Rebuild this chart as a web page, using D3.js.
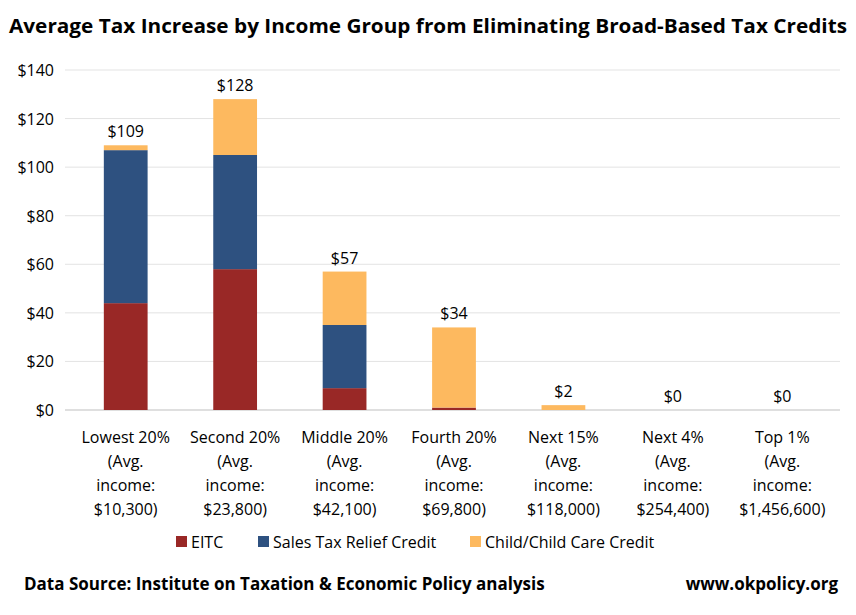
<!DOCTYPE html>
<html><head><meta charset="utf-8">
<script src="https://cdn.jsdelivr.net/npm/d3@7"></script>
<style>body{margin:0;background:#fff}text{font-family:"Open Sans",sans-serif}</style>
</head><body>
<script>
const categories=[["Lowest 20%","(Avg.","income:","$10,300)"],["Second 20%","(Avg.","income:","$23,800)"],["Middle 20%","(Avg.","income:","$42,100)"],["Fourth 20%","(Avg.","income:","$69,800)"],["Next 15%","(Avg.","income:","$118,000)"],["Next 4%","(Avg.","income:","$254,400)"],["Top 1%","(Avg.","income:","$1,456,600)"]];
const eitc=[44,58,9,1,0,0,0];
const salesTax=[63,47,26,0,0,0,0];
const childCare=[2,23,22,33,2,0,0];
const totals=["$109","$128","$57","$34","$2","$0","$0"];
const yTicks=[0,20,40,60,80,100,120,140];
const seriesNames=["EITC","Sales Tax Relief Credit","Child/Child Care Credit"];
const colors=["#992826","#2e5180","#fdb95f"];

const W=856,H=615;
const svg=d3.select("body").append("svg").attr("width",W).attr("height",H);
svg.append("text").attr("x",W/2).attr("y",33).attr("text-anchor","middle").attr("font-size",19).attr("font-weight","bold").attr("textLength",838).attr("lengthAdjust","spacingAndGlyphs").text("Average Tax Increase by Income Group from Eliminating Broad-Based Tax Credits");
const x=d3.scaleBand().domain(d3.range(7)).range([71,837]).paddingInner(0.6).paddingOuter(0.3);
const y=d3.scaleLinear().domain([0,140]).range([410,70]);
svg.append("g").selectAll("line").data(yTicks).join("line").attr("x1",65).attr("x2",840).attr("y1",d=>y(d)).attr("y2",d=>y(d)).attr("stroke",d=>d===0?"#bfbfbf":"#e3e3e3");
svg.append("g").selectAll("text").data(yTicks).join("text").attr("x",54).attr("y",d=>y(d)+6).attr("text-anchor","end").attr("font-size",16).text(d=>"$"+d);
const stack=d3.stack().keys([0,1,2])(d3.range(7).map(i=>({0:eitc[i],1:salesTax[i],2:childCare[i]})));
stack.forEach((s,k)=>{svg.append("g").attr("fill",colors[k]).selectAll("rect").data(s).join("rect").attr("x",(d,i)=>x(i)).attr("width",x.bandwidth()).attr("y",d=>y(d[1])).attr("height",d=>y(d[0])-y(d[1]));});
const tot=d3.range(7).map(i=>eitc[i]+salesTax[i]+childCare[i]);
svg.append("g").selectAll("text").data(totals).join("text").attr("x",(d,i)=>x(i)+x.bandwidth()/2).attr("y",(d,i)=>y(tot[i])-8).attr("text-anchor","middle").attr("font-size",16).text(d=>d);
categories.forEach((c,i)=>{const t=svg.append("text").attr("x",x(i)+x.bandwidth()/2).attr("y",443).attr("text-anchor","middle").attr("font-size",16);c.forEach((l,j)=>t.append("tspan").attr("x",x(i)+x.bandwidth()/2).attr("dy",j?24:0).text(l));});
const lx=[176,258,470];
seriesNames.forEach((n,k)=>{svg.append("rect").attr("x",lx[k]).attr("y",536).attr("width",11).attr("height",11).attr("fill",colors[k]);svg.append("text").attr("x",lx[k]+15).attr("y",548).attr("font-size",16).text(n);});
svg.append("text").attr("x",24).attr("y",590).attr("font-size",17).attr("font-weight","bold").text("Data Source: Institute on Taxation & Economic Policy analysis");
svg.append("text").attr("x",838).attr("y",590).attr("text-anchor","end").attr("font-size",17).attr("font-weight","bold").text("www.okpolicy.org");
</script></body></html>
